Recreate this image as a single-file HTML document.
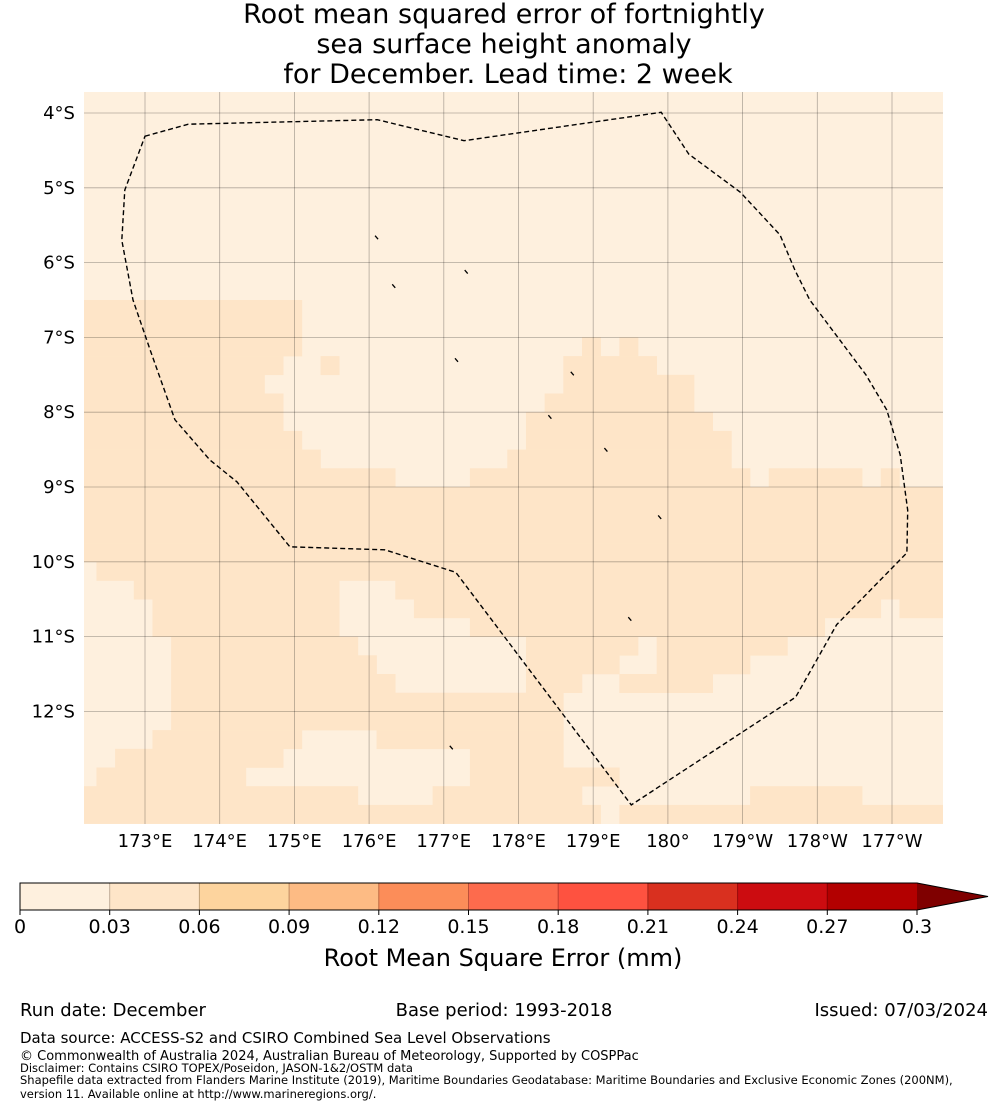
<!DOCTYPE html>
<html><head><meta charset="utf-8"><style>
body{margin:0;background:#fff;font-family:"Liberation Sans","DejaVu Sans",sans-serif;}
svg{display:block}
</style></head><body>
<svg width="1008" height="1110" viewBox="0 0 1008 1110" xmlns="http://www.w3.org/2000/svg" font-family="'DejaVu Sans','Liberation Sans',sans-serif">
<g font-size="27" text-anchor="middle" fill="#000">
<text x="504" y="23">Root mean squared error of fortnightly</text>
<text x="504" y="53">sea surface height anomaly</text>
<text x="508" y="83">for December. Lead time: 2 week</text>
</g>
<defs><clipPath id="mapclip"><rect x="84" y="92" width="859" height="732"/></clipPath></defs>
<g id="map" clip-path="url(#mapclip)"></g>
<g id="grid"></g>
<g id="labels" font-size="18" fill="#000"></g>
<path id="eez" fill="none" stroke="#000" stroke-width="1.4" stroke-dasharray="5,3"/>
<g id="islands" stroke="#000" stroke-width="1.3" fill="none"></g>
<g id="cbar"></g>
<text x="503" y="966" font-size="24" text-anchor="middle">Root Mean Square Error (mm)</text>
<g font-size="18" fill="#000">
<text x="20" y="1016">Run date: December</text>
<text x="504" y="1016" text-anchor="middle">Base period: 1993-2018</text>
<text x="988" y="1016" text-anchor="end">Issued: 07/03/2024</text>
<text x="20" y="1043" font-size="15">Data source: ACCESS-S2 and CSIRO Combined Sea Level Observations</text>
<text x="20" y="1060" font-size="13">© Commonwealth of Australia 2024, Australian Bureau of Meteorology, Supported by COSPPac</text>
<text x="20" y="1072" font-size="11.5">Disclaimer: Contains CSIRO TOPEX/Poseidon, JASON-1&amp;2/OSTM data</text>
<text x="20" y="1084" font-size="11.5">Shapefile data extracted from Flanders Marine Institute (2019), Maritime Boundaries Geodatabase: Maritime Boundaries and Exclusive Economic Zones (200NM),</text>
<text x="20" y="1098" font-size="11.5">version 11. Available online at http://www.marineregions.org/.</text>
</g>
</svg>
<script>
// ---- data ----
const cellLonStart = 172.1;
const cellLatStart = 3.5;
const cellSize = 0.25;
const nCols = 47;
const darkRuns = [
 [],[],[],[],[],[],[],[],[],[],[],[],
 [[0,11]],[[0,11]],[[0,11],[27,27],[29,29]],
 [[0,10],[13,13],[26,30]],
 [[0,9],[26,32]],
 [[0,10],[25,32]],
 [[0,10],[24,33]],
 [[0,11],[24,34]],
 [[0,12],[23,34]],
 [[0,16],[21,35],[37,41],[43,43]],
 [[0,46]],[[0,46]],[[0,46]],[[0,46]],
 [[1,46]],
 [[3,13],[17,46]],
 [[4,13],[18,42],[44,46]],
 [[4,13],[21,39]],
 [[5,14],[24,29],[31,37]],
 [[5,15],[24,28],[31,35]],
 [[5,16],[24,26],[29,33]],
 [[5,25]],
 [[5,25]],
 [[4,11],[16,25]],
 [[2,10],[21,25]],
 [[1,8],[21,28]],
 [[0,14],[19,26],[36,41]],
 [[0,27],[29,46]]
];
const lonTicks = [173,174,175,176,177,178,179,180,181,182,183];
const lonTickLabels = ["173°E","174°E","175°E","176°E","177°E","178°E","179°E","180°","179°W","178°W","177°W"];
const latTicks = [4,5,6,7,8,9,10,11,12];
const latTickLabels = ["4°S","5°S","6°S","7°S","8°S","9°S","10°S","11°S","12°S"];
const eezLon = [173.00,173.58,176.11,177.27,179.91,180.28,180.97,181.50,181.70,181.90,182.65,182.93,183.11,183.21,183.20,182.26,181.71,179.51,177.16,176.21,174.94,174.23,173.87,173.40,173.07,172.84,172.69,172.73];
const eezLat = [4.31,4.15,4.09,4.37,3.99,4.55,5.06,5.63,6.10,6.50,7.50,7.97,8.57,9.31,9.88,10.84,11.81,13.25,10.14,9.84,9.80,8.93,8.64,8.10,7.17,6.50,5.70,5.03];
const islandLon = [176.10,177.30,176.33,177.17,178.72,178.42,179.17,179.89,179.49,177.10];
const islandLat = [5.66,6.12,6.31,7.30,7.48,8.06,8.50,9.40,10.76,12.48];
const cbarBounds = [0,0.03,0.06,0.09,0.12,0.15,0.18,0.21,0.24,0.27,0.3];
const cbarTickLabels = ["0","0.03","0.06","0.09","0.12","0.15","0.18","0.21","0.24","0.27","0.3"];
const cbarColors = ["#fef0de","#fee5c8","#fdd49e","#fdbb84","#fc8d59","#fd6b4d","#fe5240","#d9301f","#cc0c10","#b30000"];
const extendColor = "#7f0000";
const levelColors = ["#fef0de","#fee5c8"];

const X = lon => 145 + (lon-173)*74.7;
const Y = lat => 113 + (lat-4)*74.8;
const CB = v => 20 + (v/0.3)*897;
const NS = "http://www.w3.org/2000/svg";
function mk(tag, parent){const e=document.createElementNS(NS,tag);parent.appendChild(e);return e;}

const map = document.getElementById('map');
const bg = mk('rect', map);
bg.setAttribute('x',84);bg.setAttribute('y',92);bg.setAttribute('width',859);bg.setAttribute('height',732);bg.setAttribute('fill',levelColors[0]);


darkRuns.forEach((runs,r)=>{
  runs.forEach(([a,b])=>{
    const rc = mk('rect', map);
    const x0 = X(cellLonStart + a*cellSize), x1 = X(cellLonStart + (b+1)*cellSize);
    let y0 = Y(cellLatStart + r*cellSize), y1 = Y(cellLatStart + (r+1)*cellSize);
    if (r===0) y0 = 80;
    rc.setAttribute('x',x0);rc.setAttribute('y',y0);
    rc.setAttribute('width',x1-x0+0.3);rc.setAttribute('height',y1-y0+0.3);
    rc.setAttribute('fill',levelColors[1]);
    
    
  });
});

const grid = document.getElementById('grid');
const labels = document.getElementById('labels');
lonTicks.forEach((lon,i)=>{
  const l = mk('line', grid);
  l.setAttribute('x1',X(lon));l.setAttribute('x2',X(lon));l.setAttribute('y1',92);l.setAttribute('y2',824);
  l.setAttribute('stroke','#000');l.setAttribute('stroke-opacity','0.3');l.setAttribute('stroke-width','0.8');
  
  
  const t = mk('text', labels);
  t.setAttribute('x',X(lon));t.setAttribute('y',847);t.setAttribute('text-anchor','middle');
  t.textContent = lonTickLabels[i];
  
  
});
latTicks.forEach((lat,i)=>{
  const l = mk('line', grid);
  l.setAttribute('y1',Y(lat));l.setAttribute('y2',Y(lat));l.setAttribute('x1',84);l.setAttribute('x2',943);
  l.setAttribute('stroke','#000');l.setAttribute('stroke-opacity','0.3');l.setAttribute('stroke-width','0.8');
  
  
  const t = mk('text', labels);
  t.setAttribute('x',75);t.setAttribute('y',Y(lat)+6);t.setAttribute('text-anchor','end');
  t.textContent = latTickLabels[i];
  
  
});

let d = '';
eezLon.forEach((lon,i)=>{ d += (i?'L':'M') + X(lon).toFixed(1) + ' ' + Y(eezLat[i]).toFixed(1) + ' '; });
d += 'Z';
document.getElementById('eez').setAttribute('d', d);

const isl = document.getElementById('islands');
islandLon.forEach((lon,i)=>{
  const p = mk('path', isl);
  const x = X(lon), y = Y(islandLat[i]);
  p.setAttribute('d', `M${x-1.5} ${y-1.5}L${x+1.5} ${y+2}`);
  
  
});

const cb = document.getElementById('cbar');
cbarColors.forEach((c,i)=>{
  const r = mk('rect', cb);
  r.setAttribute('x',CB(cbarBounds[i]));r.setAttribute('y',883);
  r.setAttribute('width',CB(cbarBounds[i+1])-CB(cbarBounds[i]));r.setAttribute('height',27);
  r.setAttribute('fill',c);r.setAttribute('stroke',c);
  
  
});
const tri = mk('path', cb);
tri.setAttribute('d',`M${CB(0.3)} 883L988 896.5L${CB(0.3)} 910Z`);
tri.setAttribute('fill',extendColor);


cbarBounds.forEach((v,i)=>{
  if(i>0&&i<cbarBounds.length-1){
    const s = mk('line', cb);
    s.setAttribute('x1',CB(v));s.setAttribute('x2',CB(v));s.setAttribute('y1',883);s.setAttribute('y2',910);
    s.setAttribute('stroke','#000');s.setAttribute('stroke-opacity','0.25');
    
    
  }
  const tk = mk('line', cb);
  tk.setAttribute('x1',CB(v));tk.setAttribute('x2',CB(v));tk.setAttribute('y1',910);tk.setAttribute('y2',915);tk.setAttribute('stroke','#000');
  
  
  const t = mk('text', cb);
  t.setAttribute('x',CB(v));t.setAttribute('y',933);t.setAttribute('text-anchor','middle');t.setAttribute('font-size','19');
  t.textContent = cbarTickLabels[i];
  
  
});
const outline = mk('path', cb);
outline.setAttribute('d',`M20 883L${CB(0.3)} 883L988 896.5L${CB(0.3)} 910L20 910Z`);
outline.setAttribute('fill','none');outline.setAttribute('stroke','#000');outline.setAttribute('stroke-width','1');


</script>
</body></html>
